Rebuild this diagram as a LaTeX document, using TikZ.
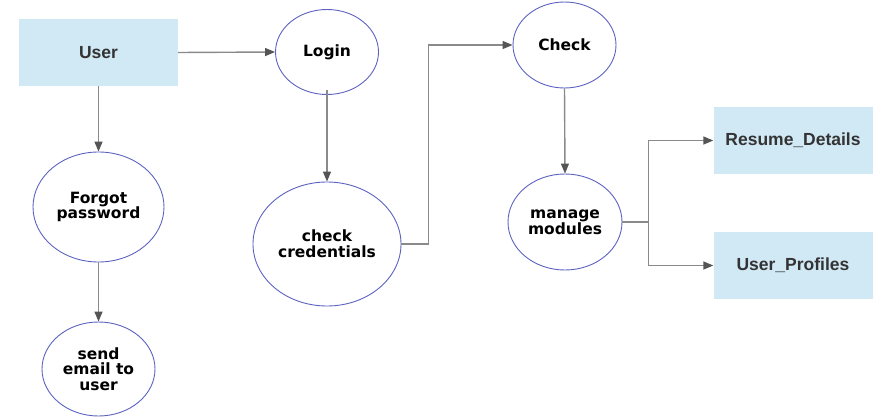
\documentclass[tikz,border=0pt]{standalone}
\usepackage{fontspec}
\setmainfont{DejaVu Sans}
\newfontfamily\boxfont{Liberation Sans}
\usetikzlibrary{shapes.geometric,arrows.meta}
\definecolor{boxblue}{HTML}{D1E8F5}
\definecolor{ringblue}{HTML}{5C62C0}
\definecolor{linegray}{HTML}{8A8A8A}
\definecolor{tipgray}{HTML}{555555}
\definecolor{boxtext}{HTML}{333333}
\tikzset{
  entity/.style={rectangle, fill=boxblue, minimum width=159pt, minimum height=67pt, inner sep=0pt,
    font=\boxfont\bfseries\fontsize{17.5}{19}\selectfont, text=boxtext},
  process/.style={ellipse, draw=ringblue, line width=0.9pt, inner sep=0pt, align=center,
    font=\bfseries\fontsize{15.5}{15.7}\selectfont},
  conn/.style={draw=linegray, line width=1.4pt, -{Triangle[length=10pt,width=8pt,color=tipgray]}}
}
\begin{document}
\begin{tikzpicture}[x=1pt,y=-1pt]
\useasboundingbox (0,0) rectangle (894,420);

\node[entity] (user) at (98.5,52.5) {User};
\node[process, minimum width=103pt, minimum height=85pt] (login) at (327,52) {Login};
\node[process, minimum width=131pt, minimum height=110pt] (forgot) at (98.5,207) {Forgot\\password};
\node[process, minimum width=113pt, minimum height=94pt] (send) at (98.5,369) {send\\email to\\user};
\node[process, minimum width=148pt, minimum height=124pt] (cred) at (327,244) {check\\credentials};
\node[process, minimum width=103pt, minimum height=86pt] (chk) at (564.5,45) {Check};
\node[process, minimum width=114pt, minimum height=96pt] (mng) at (565,222) {manage\\modules};
\node[entity] (res) at (793,140.5) {Resume\_Details};
\node[entity] (prof) at (793,265.5) {User\_Profiles};

% arrows
\draw[conn] (user.east) -- (login.west);
\draw[conn] (user.south) -- (forgot.north);
\draw[conn] (forgot.south) -- (send.north);
\draw[conn] ([yshift=5]login.south) -- (cred.north);
\draw[conn] (cred.east) -- ++(27,0) |- (chk.west);
\draw[conn] (chk.south) -- (mng.north);
\draw[conn] (mng.east) -- ++(26,0) |- (res.west);
\draw[conn] (mng.east) -- ++(26,0) |- (prof.west);

\end{tikzpicture}
\end{document}
